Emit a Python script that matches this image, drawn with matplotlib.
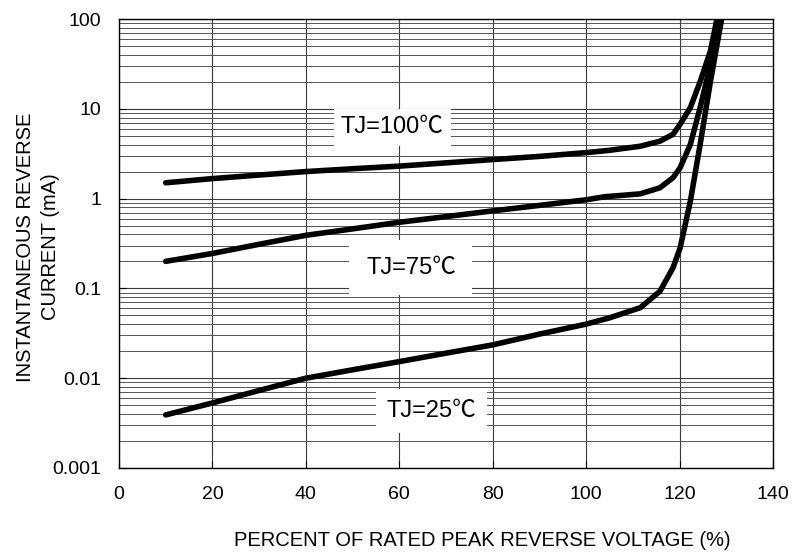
import numpy as np
import matplotlib
matplotlib.use('Agg')
import matplotlib.pyplot as plt
from matplotlib.ticker import FixedLocator, FixedFormatter, LogLocator, NullFormatter

plt.rcParams['font.family'] = ['Liberation Sans', 'Noto Sans CJK SC', 'DejaVu Sans']

# curves (x = % of rated peak reverse voltage, y = mA)
x_100 = [10, 20, 30, 40, 50, 60, 70, 80, 90, 100, 105, 111.6, 115.8, 118.6, 120.1, 122.3, 124.4, 126.6, 128.0]
y_100 = [1.5, 1.67, 1.83, 2.0, 2.15, 2.3, 2.5, 2.72, 2.95, 3.25, 3.45, 3.83, 4.36, 5.2, 6.7, 10.3, 20, 44, 100]

x_75 = [10, 20, 30, 40, 50, 60, 70, 80, 90, 100, 104, 108, 111.6, 115.8, 118.6, 120.1, 122.3, 124.4, 126.6, 128.5]
y_75 = [0.2, 0.245, 0.31, 0.39, 0.46, 0.545, 0.63, 0.73, 0.84, 0.97, 1.05, 1.09, 1.13, 1.32, 1.71, 2.2, 4.0, 10.3, 31, 100]

x_25 = [10, 20, 30, 40, 50, 60, 70, 80, 90, 100, 105, 111.6, 115.8, 118.6, 120.1, 122.3, 124.4, 126.6, 129.0]
y_25 = [0.0039, 0.0053, 0.0073, 0.01, 0.0124, 0.0153, 0.019, 0.0235, 0.031, 0.04, 0.047, 0.061, 0.093, 0.17, 0.28, 0.93, 4.0, 20, 100]

x_ticks = [0, 20, 40, 60, 80, 100, 120, 140]
y_ticks = [0.001, 0.01, 0.1, 1, 10, 100]
y_tick_labels = ['0.001', '0.01', '0.1', '1', '10', '100']

fig = plt.figure(figsize=(8.09, 5.6), dpi=100)
ax = fig.add_axes([119/809, 92/560, 654/809, 449/560])

ax.set_yscale('log')
ax.set_xlim(0, 140)
ax.set_ylim(0.001, 100)

ax.xaxis.set_major_locator(FixedLocator(x_ticks))
ax.yaxis.set_major_locator(FixedLocator(y_ticks))
ax.yaxis.set_major_formatter(FixedFormatter(y_tick_labels))
ax.yaxis.set_minor_locator(LogLocator(base=10, subs=np.arange(2, 10)))
ax.yaxis.set_minor_formatter(NullFormatter())

ax.grid(True, which='major', axis='both', color='#3a3a3a', lw=0.8, zorder=1)
ax.grid(True, which='minor', axis='y', color='#555555', lw=0.7, zorder=1)
ax.set_axisbelow(True)

ax.tick_params(which='major', direction='in', length=5, width=0.8, labelsize=14, pad=13)
ax.tick_params(which='minor', length=0)
for s in ax.spines.values():
    s.set_color('black')
    s.set_linewidth(1.0)

for xs, ys in [(x_100, y_100), (x_75, y_75), (x_25, y_25)]:
    ax.plot(xs, ys, color='black', lw=4.0, solid_capstyle='round',
            solid_joinstyle='round', zorder=4)

lab_kw = dict(fontsize=17, ha='center', va='center', zorder=3)
ax.text(58.5, 6.2, 'TJ=100\u2103', bbox=dict(boxstyle='square,pad=0.3', fc='white', ec='none'), **lab_kw)
ax.text(62.5, 0.17, 'TJ=75\u2103', bbox=dict(boxstyle='square,pad=0.7', fc='white', ec='none'), **lab_kw)
ax.text(66.8, 0.0043, 'TJ=25\u2103', bbox=dict(boxstyle='square,pad=0.45', fc='white', ec='none'), **lab_kw)

fig.text(482/809, 1 - 541/560, 'PERCENT OF RATED PEAK REVERSE VOLTAGE (%)',
         ha='center', va='center', fontsize=14.5)
fig.text(38/809, 1 - 247/560, 'INSTANTANEOUS REVERSE\nCURRENT (mA)',
         ha='center', va='center', rotation=90, fontsize=14.5, linespacing=1.4)

fig.savefig('out.png', dpi=100)
